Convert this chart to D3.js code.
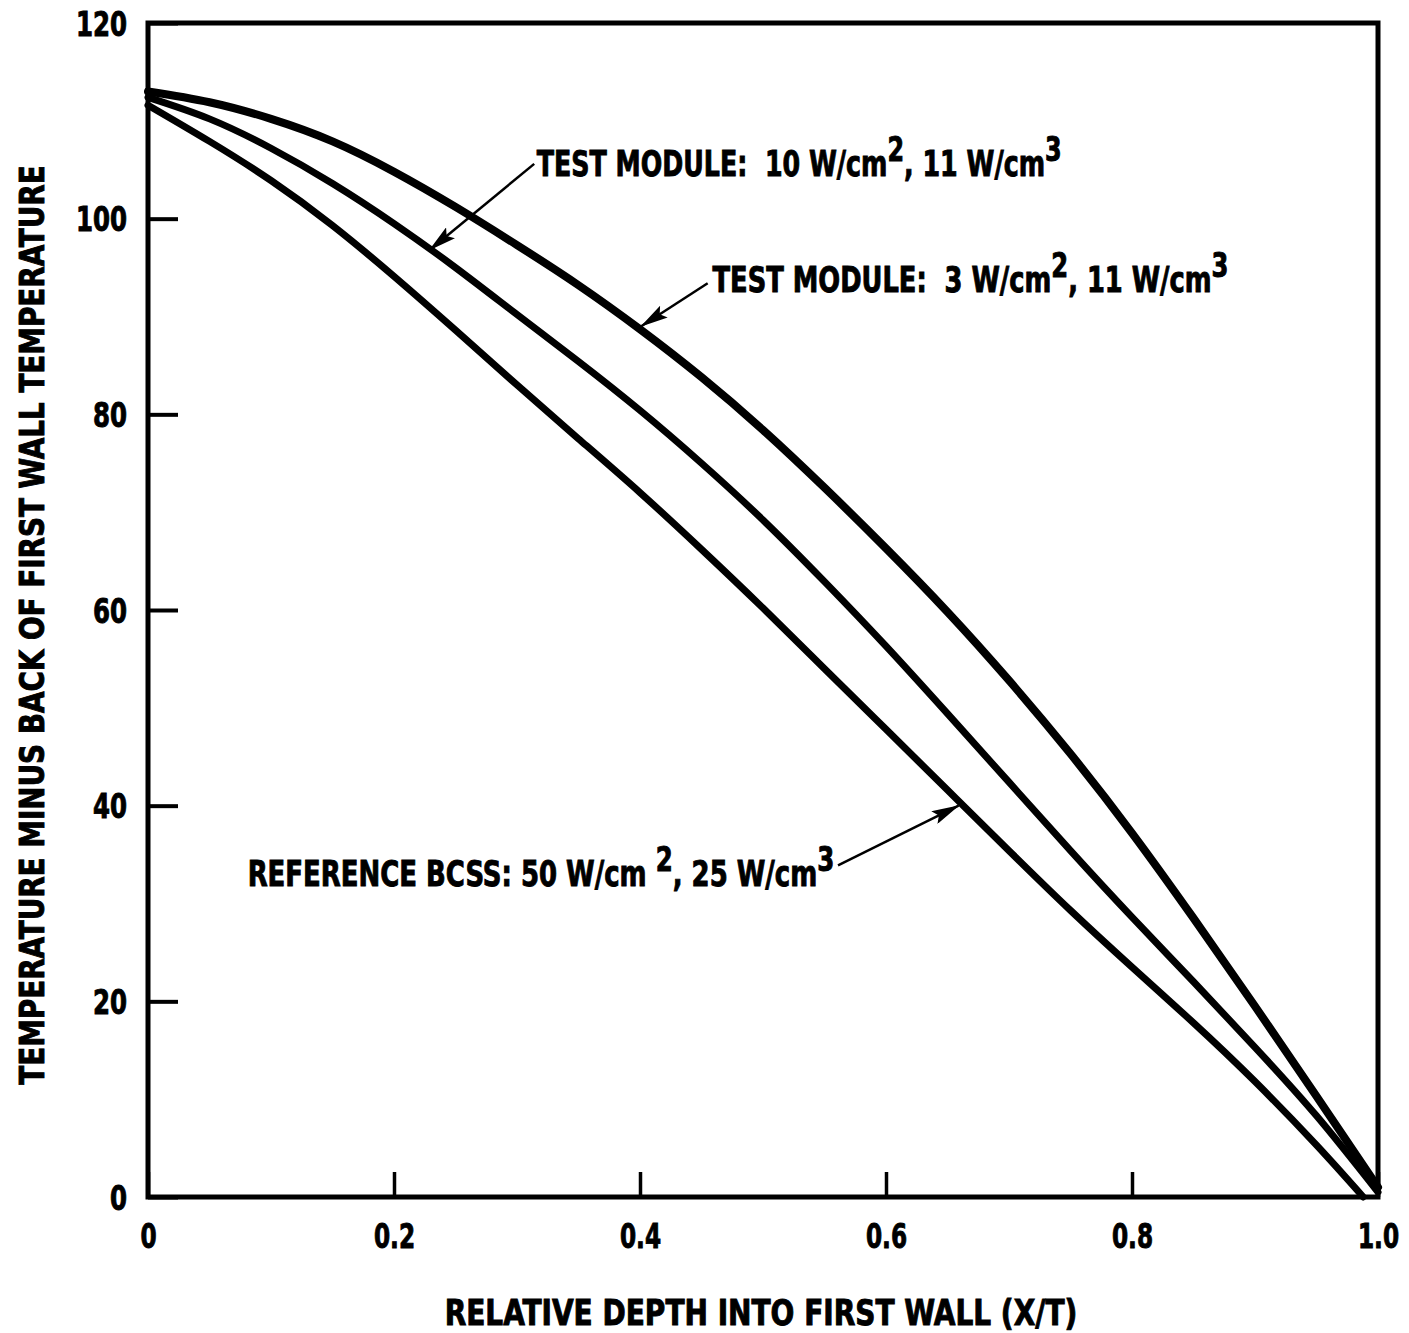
<!DOCTYPE html>
<html>
<head>
<meta charset="utf-8">
<script src="https://cdn.jsdelivr.net/npm/d3@7"></script>
<style>
  body { margin: 0; background: #fff; }
  text {
    font-family: "Liberation Sans Narrow", "DejaVu Sans Condensed", "Roboto", sans-serif;
    font-weight: bold;
    font-stretch: condensed;
    fill: #000;
    stroke: #000;
    stroke-width: 0.9;
    white-space: pre;
  }
</style>
</head>
<body>
<svg id="chart" width="1409" height="1333"></svg>
<script>
// TEST MODULE: 3 W/cm2, 11 W/cm3 (top curve)
const depthTop = [0, 0.05, 0.1, 0.15, 0.2, 0.25, 0.3, 0.35, 0.4, 0.45, 0.5, 0.55, 0.6, 0.65, 0.7, 0.75, 0.8, 0.85, 0.9, 0.95, 1.0];
const tempTop = [113, 111.9, 110.2, 107.9, 104.8, 101.2, 97.3, 93.2, 88.7, 83.8, 78.4, 72.5, 66.3, 59.8, 52.8, 45.3, 37.2, 28.5, 19.5, 10.3, 1.0];

// TEST MODULE: 10 W/cm2, 11 W/cm3 (middle curve)
const depthMid = [0, 0.05, 0.1, 0.15, 0.2, 0.25, 0.3, 0.35, 0.4, 0.45, 0.5, 0.55, 0.6, 0.65, 0.7, 0.75, 0.8, 0.85, 0.9, 0.95, 1.0];
const tempMid = [112.4, 110.2, 107.2, 103.6, 99.5, 95.0, 90.2, 85.4, 80.4, 75.0, 69.2, 62.9, 56.3, 49.4, 42.4, 35.4, 28.6, 22.0, 15.3, 8.3, 0.5];

// REFERENCE BCSS: 50 W/cm2, 25 W/cm3 (bottom curve)
const depthBot = [0, 0.05, 0.1, 0.15, 0.2, 0.25, 0.3, 0.35, 0.4, 0.45, 0.5, 0.55, 0.6, 0.65, 0.7, 0.75, 0.8, 0.85, 0.9, 0.95, 0.988];
const tempBot = [111.6, 107.9, 103.9, 99.3, 94.1, 88.6, 83.0, 77.5, 72.0, 66.2, 60.2, 54.0, 47.8, 41.6, 35.4, 29.3, 23.5, 17.8, 11.8, 5.3, 0];

const xTicks = [0, 0.2, 0.4, 0.6, 0.8, 1.0];
const xTickLabels = ["0", "0.2", "0.4", "0.6", "0.8", "1.0"];
const yTicks = [0, 20, 40, 60, 80, 100, 120];

const xTitle = "RELATIVE DEPTH INTO FIRST WALL (X/T)";
const yTitle = "TEMPERATURE MINUS BACK OF FIRST WALL TEMPERATURE";

const width = 1409;
const height = 1333;
const marginTop = 23;
const marginRight = 31;
const marginBottom = 136;
const marginLeft = 148;

const svg = d3.select("#chart");

const x = d3.scaleLinear().domain([0, 1]).range([marginLeft, width - marginRight]);
const y = d3.scaleLinear().domain([0, 120]).range([height - marginBottom, marginTop]);

// how much to squeeze a text so it spans w pixels
function fit(sel, w) {
  const bb = sel.node().getBBox();
  return w / bb.width;
}

// frame
svg.append("rect")
  .attr("x", x(0))
  .attr("y", y(120))
  .attr("width", x(1) - x(0))
  .attr("height", y(0) - y(120))
  .attr("fill", "none")
  .attr("stroke", "#000")
  .attr("stroke-width", 5);

// y axis, ticks pointing inward
const yAxis = svg.append("g")
  .attr("transform", `translate(${x(0)},0)`)
  .call(d3.axisLeft(y).tickValues(yTicks).tickSize(-30).tickPadding(21).tickFormat(d3.format("d")));
yAxis.select(".domain").remove();
yAxis.selectAll(".tick line").attr("stroke", "#000").attr("stroke-width", 4);
yAxis.selectAll(".tick text")
  .attr("font-size", 34)
  .attr("font-family", null)
  .attr("x", 0)
  .attr("dy", "0.36em")
  .attr("transform", "translate(-21,0) scale(0.8,1)");

// x axis, ticks pointing inward
const xAxis = svg.append("g")
  .attr("transform", `translate(0,${y(0)})`)
  .call(d3.axisBottom(x).tickValues(xTicks).tickSize(-25).tickPadding(28).tickFormat((d, i) => xTickLabels[i]));
xAxis.select(".domain").remove();
xAxis.selectAll(".tick line").attr("stroke", "#000").attr("stroke-width", 3.5);
xAxis.selectAll(".tick text")
  .attr("font-size", 34)
  .attr("font-family", null)
  .attr("y", 0)
  .attr("dy", "0.71em")
  .attr("transform", "translate(0,27) scale(0.76,1)");

// curves
const line = d3.line()
  .x(d => x(d[0]))
  .y(d => y(d[1]))
  .curve(d3.curveNatural);

const series = [
  { depth: depthTop, temp: tempTop, w: 8 },
  { depth: depthMid, temp: tempMid, w: 7 },
  { depth: depthBot, temp: tempBot, w: 7 },
];
series.forEach(s => {
  svg.append("path")
    .datum(d3.zip(s.depth, s.temp))
    .attr("fill", "none")
    .attr("stroke", "#000")
    .attr("stroke-width", s.w)
    .attr("stroke-linecap", "round")
    .attr("d", line);
});

// arrowhead
svg.append("defs").append("marker")
  .attr("id", "head")
  .attr("markerUnits", "userSpaceOnUse")
  .attr("markerWidth", 28)
  .attr("markerHeight", 14)
  .attr("refX", 27)
  .attr("refY", 7)
  .attr("orient", "auto")
  .append("path")
  .attr("d", "M0,0 L28,7 L0,14 L5,7 Z")
  .attr("fill", "#000");

// annotations: label start, baseline, target width, arrow from/to (data units)
const notes = [
  { parts: [["TEST MODULE:  10 W/cm", 0], ["2", 1], [", 11 W/cm", 0], ["3", 1]],
    at: [0.316, 104.4], w: 525, from: [0.314, 105.6], to: [0.229, 96.8] },
  { parts: [["TEST MODULE:  3 W/cm", 0], ["2", 1], [", 11 W/cm", 0], ["3", 1]],
    at: [0.459, 92.5], w: 516, from: [0.455, 93.4], to: [0.401, 89.0] },
  { parts: [["REFERENCE BCSS: 50 W/cm ", 0], ["2", 1], [", 25 W/cm", 0], ["3", 1]],
    at: [0.081, 31.8], w: 587, from: [0.561, 33.9], to: [0.659, 40.0] },
];

notes.forEach(n => {
  const t = svg.append("text")
    .attr("font-size", 35)
    .attr("transform", `translate(${x(n.at[0])},${y(n.at[1])})`);
  let raised = 0;
  n.parts.forEach(p => {
    const dy = p[1] === 1 ? -15 : (raised ? 15 : 0);
    raised = p[1];
    t.append("tspan").attr("dy", dy).attr("font-size", p[1] ? 33 : 35).text(p[0]);
  });
  const k = fit(t, n.w);
  t.attr("transform", `translate(${x(n.at[0])},${y(n.at[1])}) scale(${k},1)`);

  svg.append("line")
    .attr("x1", x(n.from[0]))
    .attr("y1", y(n.from[1]))
    .attr("x2", x(n.to[0]))
    .attr("y2", y(n.to[1]))
    .attr("stroke", "#000")
    .attr("stroke-width", 2.5)
    .attr("marker-end", "url(#head)");
});

// axis titles
const xt = svg.append("text")
  .attr("text-anchor", "middle")
  .attr("font-size", 35)
  .text(xTitle);
xt.attr("transform", `translate(${(x(0) + x(1)) / 2 - 2},1325) scale(${fit(xt, 633)},1)`);

const yt = svg.append("text")
  .attr("text-anchor", "middle")
  .attr("font-size", 34)
  .text(yTitle);
yt.attr("transform", `translate(44,625) rotate(-90) scale(${fit(yt, 920)},1)`);
</script>
</body>
</html>
